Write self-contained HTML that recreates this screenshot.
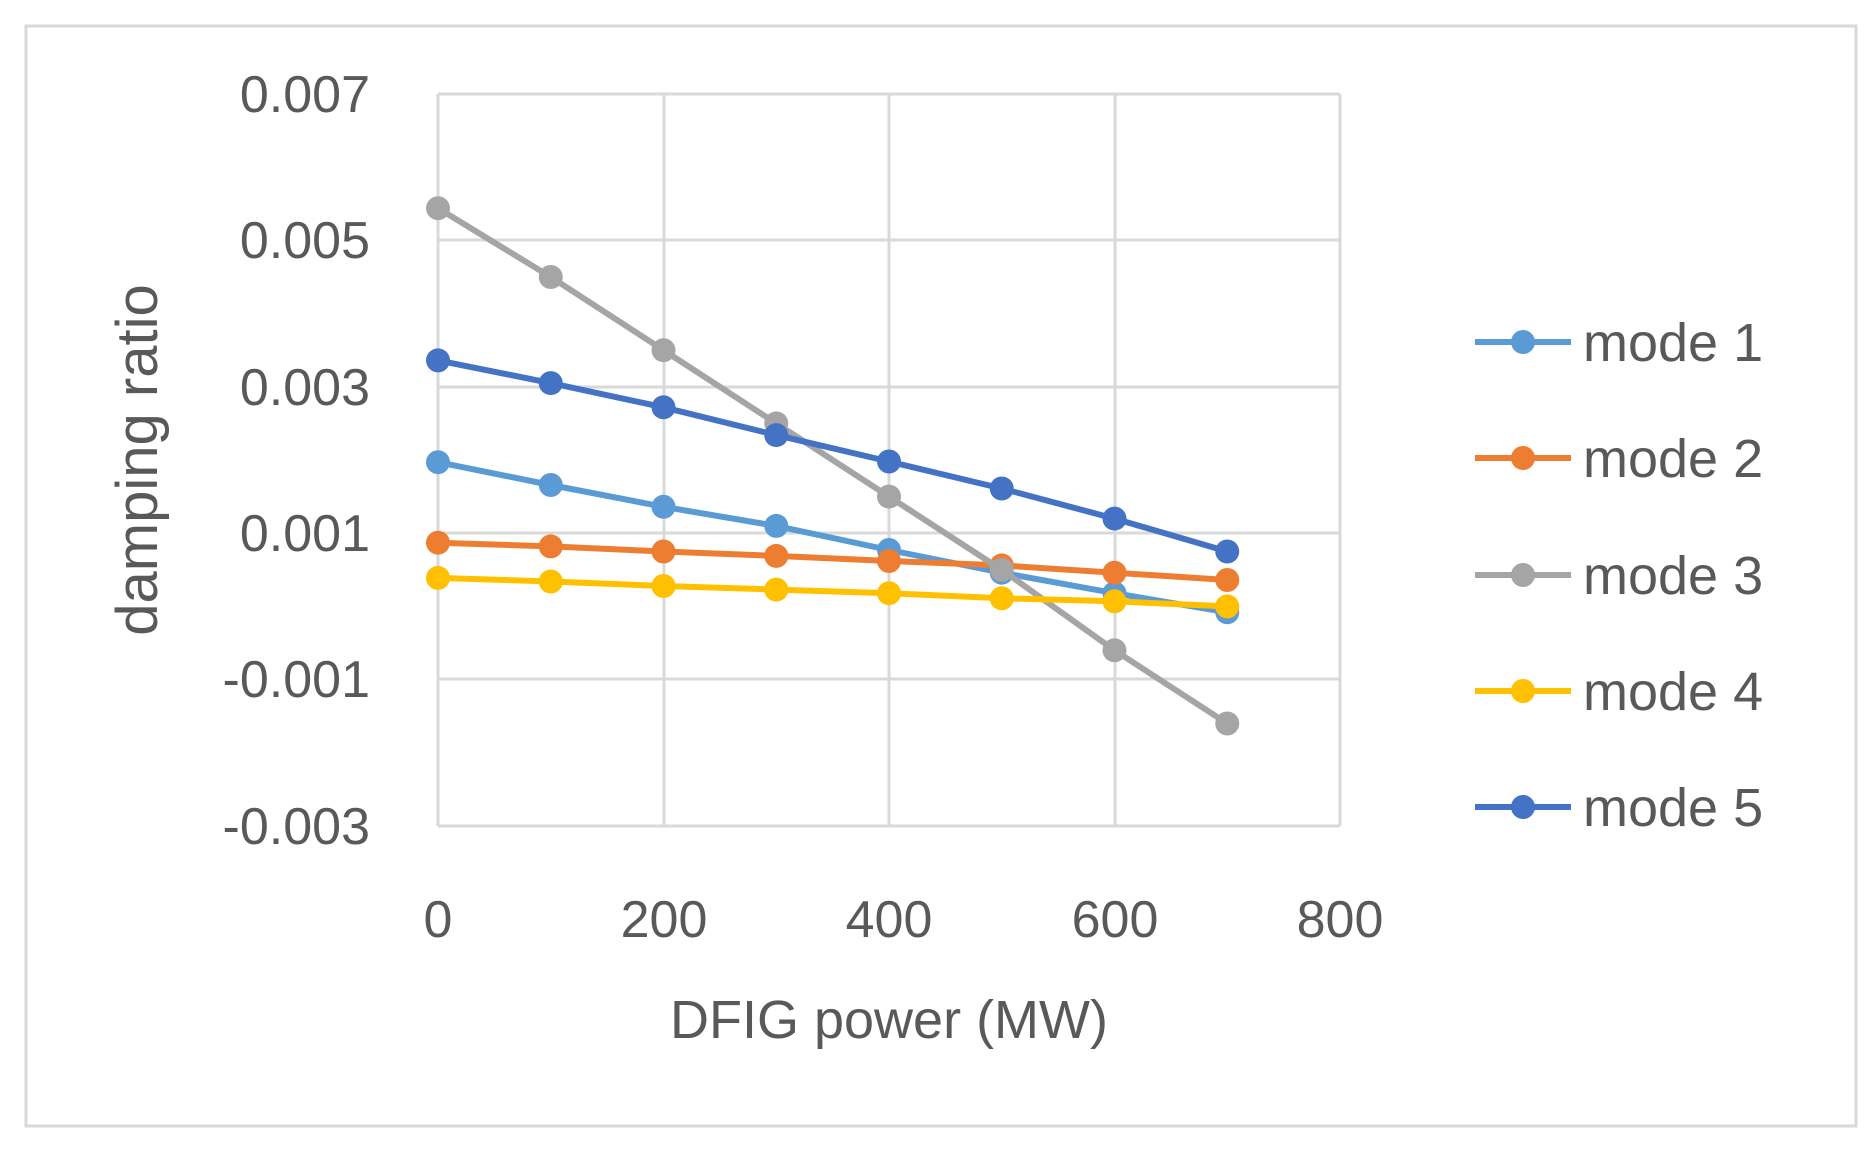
<!DOCTYPE html>
<html><head><style>body{margin:0;background:#fff}svg{display:block}</style></head><body>
<svg width="1874" height="1149" xmlns="http://www.w3.org/2000/svg" font-family="Liberation Sans, sans-serif" fill="#595959">
<rect x="26" y="26" width="1830" height="1100" fill="#fff" stroke="#d9d9d9" stroke-width="3"/>
<g stroke="#d9d9d9" stroke-width="3">
<line x1="438" y1="94" x2="1340" y2="94"/><line x1="438" y1="240" x2="1340" y2="240"/>
<line x1="438" y1="387" x2="1340" y2="387"/><line x1="438" y1="533" x2="1340" y2="533"/>
<line x1="438" y1="679" x2="1340" y2="679"/><line x1="438" y1="826" x2="1340" y2="826"/>
<line x1="438" y1="94" x2="438" y2="826"/><line x1="664" y1="94" x2="664" y2="826"/>
<line x1="889" y1="94" x2="889" y2="826"/><line x1="1115" y1="94" x2="1115" y2="826"/>
<line x1="1340" y1="94" x2="1340" y2="826"/>
</g>
<g font-size="52" text-anchor="end">
<text x="370" y="112">0.007</text><text x="370" y="258">0.005</text><text x="370" y="405">0.003</text>
<text x="370" y="551">0.001</text><text x="370" y="697">-0.001</text><text x="370" y="844">-0.003</text>
</g>
<g font-size="52" text-anchor="middle">
<text x="438" y="937">0</text><text x="664" y="937">200</text><text x="889" y="937">400</text>
<text x="1115" y="937">600</text><text x="1340" y="937">800</text>
<text x="889" y="1038" font-size="54">DFIG power (MW)</text>
<text transform="translate(157,460) rotate(-90)" font-size="58">damping ratio</text>
</g>
<g stroke-width="6" fill="none">
<polyline stroke="#5b9bd5" points="438,462.2 550.75,485 663.5,506.8 776.25,525.9 889,550 1001.75,572.7 1114.5,593.2 1227.25,612.3"/>
<g fill="#5b9bd5" stroke="none"><circle cx="438" cy="462.2" r="12"/><circle cx="550.75" cy="485" r="12"/><circle cx="663.5" cy="506.8" r="12"/><circle cx="776.25" cy="525.9" r="12"/><circle cx="889" cy="550" r="12"/><circle cx="1001.75" cy="572.7" r="12"/><circle cx="1114.5" cy="593.2" r="12"/><circle cx="1227.25" cy="612.3" r="12"/></g>
<polyline stroke="#ed7d31" points="438,542.7 550.75,546.4 663.5,551.5 776.25,555.9 889,561 1001.75,565.4 1114.5,572.7 1227.25,580"/>
<g fill="#ed7d31" stroke="none"><circle cx="438" cy="542.7" r="12"/><circle cx="550.75" cy="546.4" r="12"/><circle cx="663.5" cy="551.5" r="12"/><circle cx="776.25" cy="555.9" r="12"/><circle cx="889" cy="561" r="12"/><circle cx="1001.75" cy="565.4" r="12"/><circle cx="1114.5" cy="572.7" r="12"/><circle cx="1227.25" cy="580" r="12"/></g>
<polyline stroke="#a5a5a5" points="438,208.2 550.75,277 663.5,350.2 776.25,423.4 889,496.6 1001.75,569.8 1114.5,650.3 1227.25,723.5"/>
<g fill="#a5a5a5" stroke="none"><circle cx="438" cy="208.2" r="12"/><circle cx="550.75" cy="277" r="12"/><circle cx="663.5" cy="350.2" r="12"/><circle cx="776.25" cy="423.4" r="12"/><circle cx="889" cy="496.6" r="12"/><circle cx="1001.75" cy="569.8" r="12"/><circle cx="1114.5" cy="650.3" r="12"/><circle cx="1227.25" cy="723.5" r="12"/></g>
<polyline stroke="#ffc000" points="438,577.9 550.75,581.5 663.5,586 776.25,589.6 889,593.2 1001.75,598.3 1114.5,601.3 1227.25,606.4"/>
<g fill="#ffc000" stroke="none"><circle cx="438" cy="577.9" r="12"/><circle cx="550.75" cy="581.5" r="12"/><circle cx="663.5" cy="586" r="12"/><circle cx="776.25" cy="589.6" r="12"/><circle cx="889" cy="593.2" r="12"/><circle cx="1001.75" cy="598.3" r="12"/><circle cx="1114.5" cy="601.3" r="12"/><circle cx="1227.25" cy="606.4" r="12"/></g>
<polyline stroke="#4472c4" points="438,360.4 550.75,383.1 663.5,407.3 776.25,435.1 889,461.5 1001.75,488.5 1114.5,518.6 1227.25,551.5"/>
<g fill="#4472c4" stroke="none"><circle cx="438" cy="360.4" r="12"/><circle cx="550.75" cy="383.1" r="12"/><circle cx="663.5" cy="407.3" r="12"/><circle cx="776.25" cy="435.1" r="12"/><circle cx="889" cy="461.5" r="12"/><circle cx="1001.75" cy="488.5" r="12"/><circle cx="1114.5" cy="518.6" r="12"/><circle cx="1227.25" cy="551.5" r="12"/></g>
<line x1="1475" y1="342" x2="1571" y2="342" stroke="#5b9bd5"/>
<line x1="1475" y1="458" x2="1571" y2="458" stroke="#ed7d31"/>
<line x1="1475" y1="575" x2="1571" y2="575" stroke="#a5a5a5"/>
<line x1="1475" y1="691" x2="1571" y2="691" stroke="#ffc000"/>
<line x1="1475" y1="807" x2="1571" y2="807" stroke="#4472c4"/>
</g>
<circle cx="1523" cy="342" r="12" fill="#5b9bd5"/>
<circle cx="1523" cy="458" r="12" fill="#ed7d31"/>
<circle cx="1523" cy="575" r="12" fill="#a5a5a5"/>
<circle cx="1523" cy="691" r="12" fill="#ffc000"/>
<circle cx="1523" cy="807" r="12" fill="#4472c4"/>
<g font-size="54">
<text x="1583" y="361">mode 1</text>
<text x="1583" y="477">mode 2</text>
<text x="1583" y="594">mode 3</text>
<text x="1583" y="710">mode 4</text>
<text x="1583" y="826">mode 5</text>
</g>
</svg>
</body></html>
